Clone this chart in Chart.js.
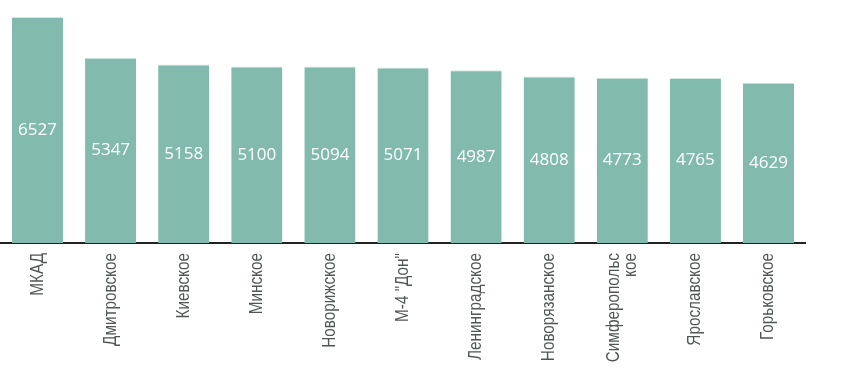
<!DOCTYPE html>
<html>
<head>
<meta charset="utf-8">
<script src="https://cdn.jsdelivr.net/npm/chart.js@4"></script>
<style>
  html, body { margin: 0; padding: 0; background: #fff; }
  #wrap { width: 860px; height: 369px; position: relative; }
</style>
</head>
<body>
<div id="wrap"><canvas id="roads"></canvas></div>
<script>
// Data
const roads = ['МКАД', 'Дмитровское', 'Киевское', 'Минское', 'Новорижское', 'М-4 "Дон"',
  'Ленинградское', 'Новорязанское', ['Симферопольс', 'кое'], 'Ярославское', 'Горьковское'];
const counts = [6527, 5347, 5158, 5100, 5094, 5071, 4987, 4808, 4773, 4765, 4629];

// Value labels in the middle of each bar
const valueLabels = {
  id: 'valueLabels',
  afterDatasetsDraw(chart) {
    const ctx = chart.ctx;
    const meta = chart.getDatasetMeta(0);
    ctx.save();
    ctx.fillStyle = '#ffffff';
    ctx.font = '17px "Open Sans", sans-serif';
    ctx.textAlign = 'center';
    ctx.textBaseline = 'middle';
    meta.data.forEach((bar, i) => {
      const { x, y, base } = bar.getProps(['x', 'y', 'base'], true);
      ctx.fillText(counts[i], x, (y + base) / 2);
    });
    ctx.restore();
  }
};

// Narrow rotated category labels (the font in the picture is condensed)
const narrowTicks = {
  id: 'narrowTicks',
  afterDraw(chart) {
    const ctx = chart.ctx;
    const xs = chart.scales.x;
    const top = chart.chartArea.bottom + 10;
    const lineH = 17;
    ctx.save();
    ctx.fillStyle = '#505656';
    ctx.font = '18px "Liberation Sans", Arial, sans-serif';
    ctx.textAlign = 'right';
    ctx.textBaseline = 'middle';
    roads.forEach((lab, i) => {
      const lines = Array.isArray(lab) ? lab : [lab];
      ctx.save();
      ctx.translate(xs.getPixelForTick(i), top);
      ctx.rotate(-Math.PI / 2);
      ctx.scale(0.85, 1);
      lines.forEach((ln, k) => {
        ctx.fillText(ln, 0, (k - (lines.length - 1) / 2) * lineH);
      });
      ctx.restore();
    });
    ctx.restore();
  }
};

const ctx = document.getElementById('roads').getContext('2d');
new Chart(ctx, {
  type: 'bar',
  data: {
    labels: roads,
    datasets: [{
      data: counts,
      backgroundColor: '#82bbad',
      borderColor: '#d2e7e1',
      borderWidth: { top: 1, right: 0, bottom: 0, left: 0 },
      borderSkipped: 'bottom',
      categoryPercentage: 1,
      barPercentage: 0.7
    }]
  },
  options: {
    responsive: true,
    maintainAspectRatio: false,
    animation: false,
    layout: { padding: { left: 1, right: 55, top: 17, bottom: 0 } },
    plugins: {
      legend: { display: false },
      tooltip: { enabled: false }
    },
    scales: {
      x: {
        grid: { display: false },
        border: { display: true, color: '#222', width: 2 },
        afterFit(scale) { scale.height = 126; },
        ticks: { display: false }
      },
      y: {
        display: false,
        min: 0,
        max: 6527
      }
    }
  },
  plugins: [valueLabels, narrowTicks]
});
</script>
</body>
</html>
